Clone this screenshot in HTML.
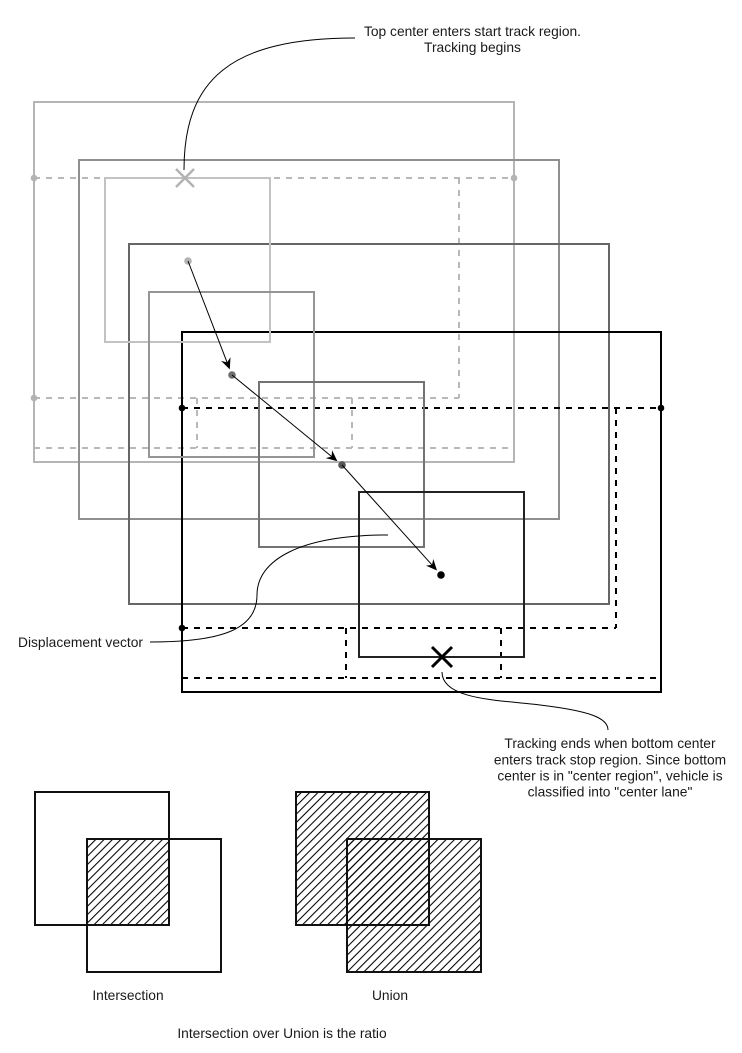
<!DOCTYPE html>
<html><head><meta charset="utf-8"><style>
html,body{margin:0;padding:0;background:#fff;}
svg{display:block;}
text{font-family:"Liberation Sans",Arial,sans-serif;font-size:13.8px;fill:#1a1a1a;}
</style></head><body>
<svg width="742" height="1053" viewBox="0 0 742 1053" xmlns="http://www.w3.org/2000/svg">
<defs>
<pattern id="h" patternUnits="userSpaceOnUse" width="5.9" height="5.9" patternTransform="rotate(45)">
<line x1="0.5" y1="0" x2="0.5" y2="5.9" stroke="#000" stroke-width="1.1"/>
</pattern>
</defs>
<rect width="742" height="1053" fill="#fff"/>
<g fill="none" stroke-width="2">
<g stroke="#b8b8b8" stroke-dasharray="6 6">
<path d="M34 178H514"/>
<path d="M459 178V398"/>
<path d="M34 398H459"/>
<path d="M34 448H514"/>
<path d="M197 398V448M352 398V448"/>
<path d="M34 178V448"/>
</g>
<rect x="34" y="102" width="480" height="360" stroke="#b5b5b5"/>
<rect x="79" y="160" width="480" height="359" stroke="#8f8f8f"/>
<rect x="129" y="244" width="480" height="360" stroke="#666"/>
<rect x="182" y="332" width="479" height="360" stroke="#000"/>
<g stroke="#000" stroke-dasharray="6 6">
<path d="M182 408H661"/>
<path d="M616 408V628"/>
<path d="M182 628H616"/>
<path d="M182 678H661"/>
<path d="M346 628V678M501 628V678"/>
<path d="M182 408V678"/>
</g>
<rect x="105" y="178" width="165" height="164" stroke="#c2c2c2"/>
<rect x="149" y="292" width="165" height="165" stroke="#959595"/>
<rect x="259" y="382" width="165" height="165" stroke="#737373"/>
<rect x="359" y="492" width="165" height="165" stroke="#222"/>
</g>
<g fill="#b3b3b3"><circle cx="34" cy="178" r="3.3"/><circle cx="514" cy="178" r="3.3"/><circle cx="34" cy="398" r="3.3"/></g>
<g fill="#000"><circle cx="182" cy="408" r="3.3"/><circle cx="661" cy="408" r="3.3"/><circle cx="182" cy="628" r="3.3"/></g>
<circle cx="188" cy="261" r="3.8" fill="#b3b3b3"/>
<circle cx="232" cy="375" r="3.8" fill="#6e6e6e"/>
<circle cx="342" cy="465" r="3.8" fill="#555"/>
<circle cx="441" cy="575" r="3.8" fill="#000"/>
<g stroke="#000" stroke-width="1" fill="none">
<path d="M188 261L227.1 362.4"/>
<path d="M232 375L331.6 456.5"/>
<path d="M342 465L432 564.9"/>
</g>
<g fill="#000">
<polygon points="229.8,369.4 221.1,360.9 227.1,362.4 230.5,357.3"/>
<polygon points="337.4,461.2 325.7,458.1 331.6,456.5 332.1,450.3"/>
<polygon points="437,570.5 425.9,565.6 432,564.9 433.3,559"/>
</g>
<path d="M176 169L194 187M194 169L176 187" stroke="#b3b3b3" stroke-width="2.5" fill="none"/>
<path d="M432 647L452 667M452 647L432 667" stroke="#000" stroke-width="3" fill="none"/>
<g stroke="#000" stroke-width="1" fill="none">
<path d="M355 38C230 38 184 80 184 170"/>
<path d="M388 535C300 535 257 560 257 595C257 630 220 642 150 642"/>
<path d="M442 672C442 700 500 700 540 705C590 711 608 718 608 730"/>
</g>
<text x="472.5" y="36" text-anchor="middle">Top center enters start track region.</text>
<text x="472.5" y="52" text-anchor="middle">Tracking begins</text>
<text x="18" y="647">Displacement vector</text>
<text x="610" y="748" text-anchor="middle">Tracking ends when bottom center</text>
<text x="610" y="764.3" text-anchor="middle">enters track stop region. Since bottom</text>
<text x="610" y="780.5" text-anchor="middle">center is in "center region", vehicle is</text>
<text x="610" y="796.6" text-anchor="middle">classified into "center lane"</text>
<rect x="87" y="839" width="81" height="86" fill="url(#h)"/>
<g fill="none" stroke="#111" stroke-width="2">
<rect x="35" y="792" width="134" height="133"/>
<rect x="87" y="839" width="134" height="133"/>
</g>
<rect x="296" y="792" width="133" height="133" fill="url(#h)"/>
<rect x="347" y="839" width="134" height="133" fill="url(#h)"/>
<g fill="none" stroke="#111" stroke-width="2">
<rect x="296" y="792" width="133" height="133"/>
<rect x="347" y="839" width="134" height="133"/>
</g>
<text x="128" y="1000" text-anchor="middle">Intersection</text>
<text x="390" y="1000" text-anchor="middle">Union</text>
<text x="282" y="1038" text-anchor="middle">Intersection over Union is the ratio</text>
</svg>
</body></html>
